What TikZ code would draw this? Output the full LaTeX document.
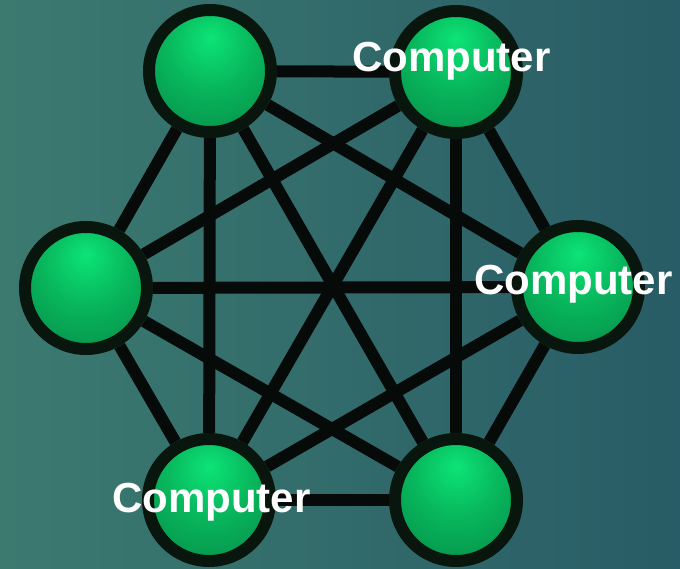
\documentclass[tikz,border=0pt]{standalone}
\usepackage{fontspec}
\setmainfont{Liberation Sans}
\usetikzlibrary{backgrounds}

\definecolor{bgleft}{RGB}{60,122,112}
\definecolor{bgright}{RGB}{40,92,102}
\definecolor{ballhi}{RGB}{12,228,118}
\definecolor{ballmid}{RGB}{8,182,92}
\definecolor{balllo}{RGB}{4,128,66}
\definecolor{ringcol}{RGB}{8,22,14}
\definecolor{linkcol}{RGB}{6,10,8}

% extra layer for the backdrop, below the links
\pgfdeclarelayer{backdrop}
\pgfsetlayers{backdrop,background,main}

% green ball shading with the highlight a little above the centre
\pgfdeclareradialshading{greenball}{\pgfpoint{0bp}{14bp}}{%
  color(0bp)=(ballhi); color(18bp)=(ballmid); color(46bp)=(balllo); color(80bp)=(balllo)}

\tikzset{
  pc/.style={circle, minimum size=122pt, inner sep=0pt, draw=ringcol,
    line width=12pt, shading=greenball},
  link/.style={draw=linkcol, line width=12pt},
  pclabel/.style={text=white, font=\bfseries\fontsize{42}{42}\selectfont,
    inner sep=0pt, anchor=base west}
}

\begin{document}
\begin{tikzpicture}[x=1pt,y=-1pt]
  \useasboundingbox (0,0) rectangle (680,569);
  \begin{pgfonlayer}{backdrop}
    \fill[left color=bgleft, right color=bgright] (0,0) rectangle (680,569);
  \end{pgfonlayer}

  % computers
  \node[pc] (tl) at (210,71) {};
  \node[pc] (tr) at (456,72) {};
  \node[pc] (l)  at (86,288) {};
  \node[pc] (r)  at (578,287) {};
  \node[pc] (bl) at (209,500) {};
  \node[pc] (br) at (456,500) {};

  % full mesh of links, kept behind the computers
  \begin{scope}[on background layer]
    \foreach \a/\b in {tl/tr, tl/l, tl/r, tl/bl, tl/br,
                       tr/l, tr/r, tr/bl, tr/br,
                       l/r, l/bl, l/br,
                       r/bl, r/br,
                       bl/br}
      \draw[link] (\a) -- (\b);
  \end{scope}

  % labels
  \node[pclabel] (lbtr) at (352,72)  {Computer};
  \node[pclabel] (lbr)  at (474,295) {Computer};
  \node[pclabel] (lbbl) at (112,512) {Computer};
\end{tikzpicture}
\end{document}
